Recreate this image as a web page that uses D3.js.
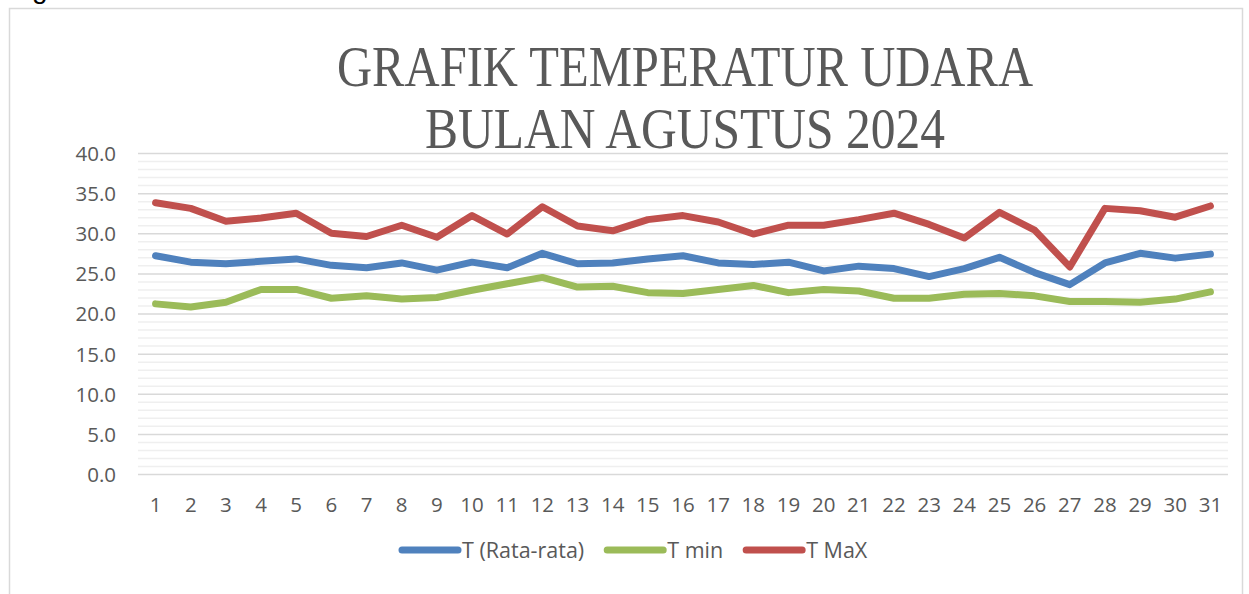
<!DOCTYPE html>
<html>
<head>
<meta charset="utf-8">
<script src="https://cdn.jsdelivr.net/npm/d3@7"></script>
<style>
  body { margin: 0; background: #fff; }
  svg { display: block; }
</style>
</head>
<body>
<div id="chart_container"></div>
<script>
// data
const days = d3.range(1, 32)
const tRata = [27.2, 26.4, 26.2, 26.5, 26.8, 26.0, 25.7, 26.3, 25.4, 26.4, 25.7,
	27.5, 26.2, 26.3, 26.8, 27.2, 26.3, 26.1, 26.4, 25.3, 25.9,
	25.6, 24.6, 25.6, 27.0, 25.1, 23.6, 26.3, 27.5, 26.9, 27.4]
const tMin = [21.2, 20.8, 21.4, 23.0, 23.0, 21.9, 22.2, 21.8, 22.0, 22.9, 23.7,
	24.5, 23.3, 23.4, 22.6, 22.5, 23.0, 23.5, 22.6, 23.0, 22.8,
	21.9, 21.9, 22.4, 22.5, 22.2, 21.5, 21.5, 21.4, 21.8, 22.7]
const tMax = [33.8, 33.1, 31.5, 31.9, 32.5, 30.0, 29.6, 31.0, 29.5, 32.2, 29.9,
	33.3, 30.9, 30.3, 31.7, 32.2, 31.4, 29.9, 31.0, 31.0, 31.7,
	32.5, 31.1, 29.4, 32.6, 30.4, 25.8, 33.1, 32.8, 32.0, 33.4]
const yTicks = [0, 5, 10, 15, 20, 25, 30, 35, 40]
const seriesNames = ['T (Rata-rata)', 'T min', 'T MaX']
const seriesColors = ['#4f81bd', '#9bbb59', '#c0504d']
const titleLines = ['GRAFIK TEMPERATUR UDARA', 'BULAN AGUSTUS 2024']

const width = 1249
const height = 594

const svg = d3.select('#chart_container')
	.append('svg')
	.attr('width', width)
	.attr('height', height)

// scrap of page text peeking in above the frame
svg.append('text')
	.attr('x', 32)
	.attr('y', -2)
	.attr('font-family', 'Liberation Sans')
	.attr('font-size', 28)
	.attr('fill', '#000')
	.text('g')

// chart frame
svg.append('rect')
	.attr('x', 9.5)
	.attr('y', 8.5)
	.attr('width', 1233)
	.attr('height', 620)
	.attr('fill', 'none')
	.attr('stroke', '#d9d9d9')
	.attr('stroke-width', 1.5)

const plotLeft = 138
const plotRight = 1228
const plotTop = 153
const plotBottom = 474

const xScale = d3.scaleBand()
	.domain(days)
	.range([plotLeft, plotRight])

const yScale = d3.scaleLinear()
	.domain([0, 40])
	.range([plotBottom, plotTop])

// minor gridlines every 1
svg.append('g')
	.selectAll('line')
	.data(d3.range(0, 41).filter(d => d % 5 != 0))
	.enter()
	.append('line')
	.attr('x1', plotLeft)
	.attr('x2', plotRight)
	.attr('y1', d => yScale(d) + 0.5)
	.attr('y2', d => yScale(d) + 0.5)
	.attr('stroke', '#efefef')
	.attr('stroke-width', 1.5)

// major gridlines
svg.append('g')
	.selectAll('line')
	.data(yTicks)
	.enter()
	.append('line')
	.attr('x1', plotLeft)
	.attr('x2', plotRight)
	.attr('y1', d => yScale(d) + 0.5)
	.attr('y2', d => yScale(d) + 0.5)
	.attr('stroke', '#d9d9d9')
	.attr('stroke-width', 1.5)

// y axis labels
const yAxis = d3.axisLeft(yScale)
	.tickValues(yTicks)
	.tickFormat(d3.format('.1f'))
	.tickSize(0)
	.tickPadding(0)

const yg = svg.append('g')
	.attr('transform', 'translate(116,0)')
	.call(yAxis)
yg.select('.domain').remove()
yg.selectAll('text')
	.attr('font-family', 'Open Sans')
	.attr('font-size', 20.5)
	.attr('fill', '#595959')
	.attr('dy', '0.36em')

// x axis labels
const xAxis = d3.axisBottom(xScale)
	.tickSize(0)
	.tickPadding(0)

const xg = svg.append('g')
	.attr('transform', 'translate(0,' + (plotBottom + 23) + ')')
	.call(xAxis)
xg.select('.domain').remove()
xg.selectAll('text')
	.attr('font-family', 'Open Sans')
	.attr('font-size', 20.5)
	.attr('fill', '#595959')
	.attr('dy', '0.75em')

// lines
const seriesList = [tRata, tMin, tMax]

const pathGeneration = d3.line()
	.x((d, i) => xScale(days[i]) + xScale.bandwidth() / 2)
	.y(d => yScale(d))

svg.append('g')
	.selectAll('path')
	.data(seriesList)
	.enter()
	.append('path')
	.attr('d', pathGeneration)
	.attr('stroke', (d, i) => seriesColors[i])
	.attr('stroke-width', 7)
	.attr('stroke-linejoin', 'round')
	.attr('stroke-linecap', 'round')
	.attr('fill', 'none')

// title
svg.append('g')
	.selectAll('text')
	.data(titleLines)
	.enter()
	.append('text')
	.attr('x', (d, i) => i == 0 ? 337 : 425)
	.attr('y', (d, i) => i == 0 ? 86 : 148)
	.attr('textLength', (d, i) => i == 0 ? 696 : 520)
	.attr('lengthAdjust', 'spacingAndGlyphs')
	.attr('font-family', 'Liberation Serif')
	.attr('font-size', 56)
	.attr('fill', '#595959')
	.text(d => d)

// legend
const legend = svg.append('g')
let lx = 402
seriesNames.forEach(function(name, i){
	legend.append('line')
		.attr('x1', lx)
		.attr('x2', lx + 56)
		.attr('y1', 550)
		.attr('y2', 550)
		.attr('stroke', seriesColors[i])
		.attr('stroke-width', 7)
		.attr('stroke-linecap', 'round')
	let t = legend.append('text')
		.attr('x', lx + 60)
		.attr('y', 550)
		.attr('dy', '0.36em')
		.attr('font-family', 'Open Sans')
		.attr('font-size', 21.5)
		.attr('fill', '#595959')
		.text(name)
	lx = lx + 60 + t.node().getComputedTextLength() + 23
})
</script>
</body>
</html>
